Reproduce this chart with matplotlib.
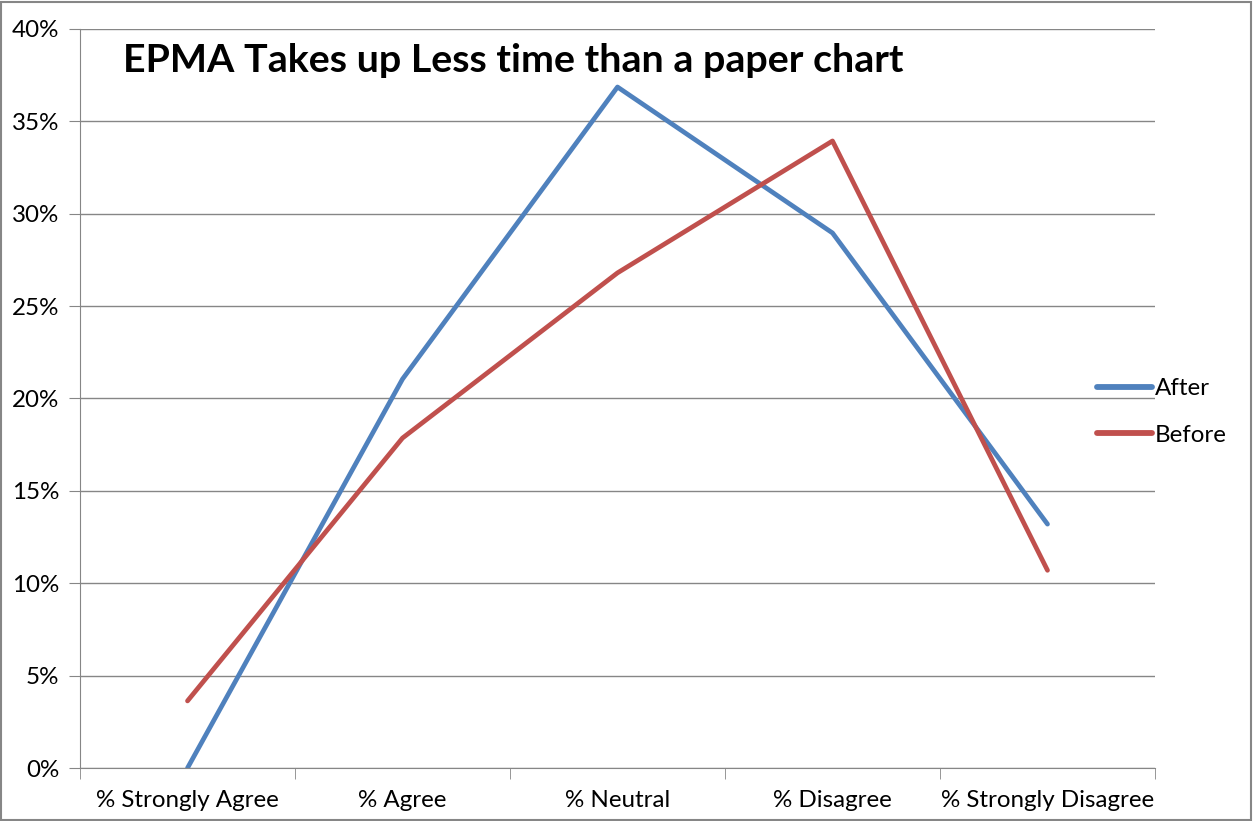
import numpy as np
import matplotlib.pyplot as plt
from matplotlib.patches import Rectangle
from matplotlib.ticker import PercentFormatter

plt.rcParams['font.family'] = ['Lato', 'DejaVu Sans']

categories = ['% Strongly Agree', '% Agree', '% Neutral', '% Disagree', '% Strongly Disagree']
after = [0.0, 21.05, 36.86, 28.96, 13.2]
before = [3.63, 17.86, 26.8, 33.94, 10.7]

fig = plt.figure(figsize=(12.53, 8.21), dpi=100)
ax = fig.add_axes([80 / 1253, 53 / 821, 1075 / 1253, 739 / 821])

x = np.arange(len(categories))
ax.plot(x, after, color='#4F81BD', lw=3.4, label='After', solid_capstyle='round')
ax.plot(x, before, color='#C0504D', lw=3.4, label='Before', solid_capstyle='round')

ax.set_xlim(-0.5, len(categories) - 0.5)
ax.set_ylim(0, 40)
ax.set_yticks(np.arange(0, 41, 5))
ax.yaxis.set_major_formatter(PercentFormatter(decimals=0))
ax.grid(axis='y', color='#868686', lw=1)
ax.set_axisbelow(True)

# category labels at centres, tick marks on the boundaries
ax.set_xticks(x)
ax.set_xticklabels(categories)
ax.set_xticks(np.arange(-0.5, len(categories)), minor=True)
ax.tick_params(axis='x', which='major', length=0, pad=16, labelsize=17.4)
ax.tick_params(axis='x', which='minor', length=8, color='#868686', direction='out')
ax.tick_params(axis='y', length=8, color='#868686', labelsize=17.4, pad=7)

for side in ['top', 'right']:
    ax.spines[side].set_visible(False)
for side in ['left', 'bottom']:
    ax.spines[side].set_color('#868686')

ax.text(43 / 1075, 1 - 32 / 739, 'EPMA Takes up Less time than a paper chart', transform=ax.transAxes,
        fontsize=28.4, fontweight='bold', va='center', ha='left')

leg = ax.legend(loc='center left', bbox_to_anchor=(1075 / 1253, 409 / 821), bbox_transform=fig.transFigure,
                frameon=False, fontsize=17.4, handlelength=2.3, handletextpad=0.1, labelspacing=1.05)
for line in leg.get_lines():
    line.set_linewidth(4.2)

fig.patches.append(Rectangle((1 / 1253, 1 / 821), 1250 / 1253, 818 / 821, transform=fig.transFigure,
                             fill=False, edgecolor='#868686', lw=1.5))

fig.savefig('out.png', dpi=100)
